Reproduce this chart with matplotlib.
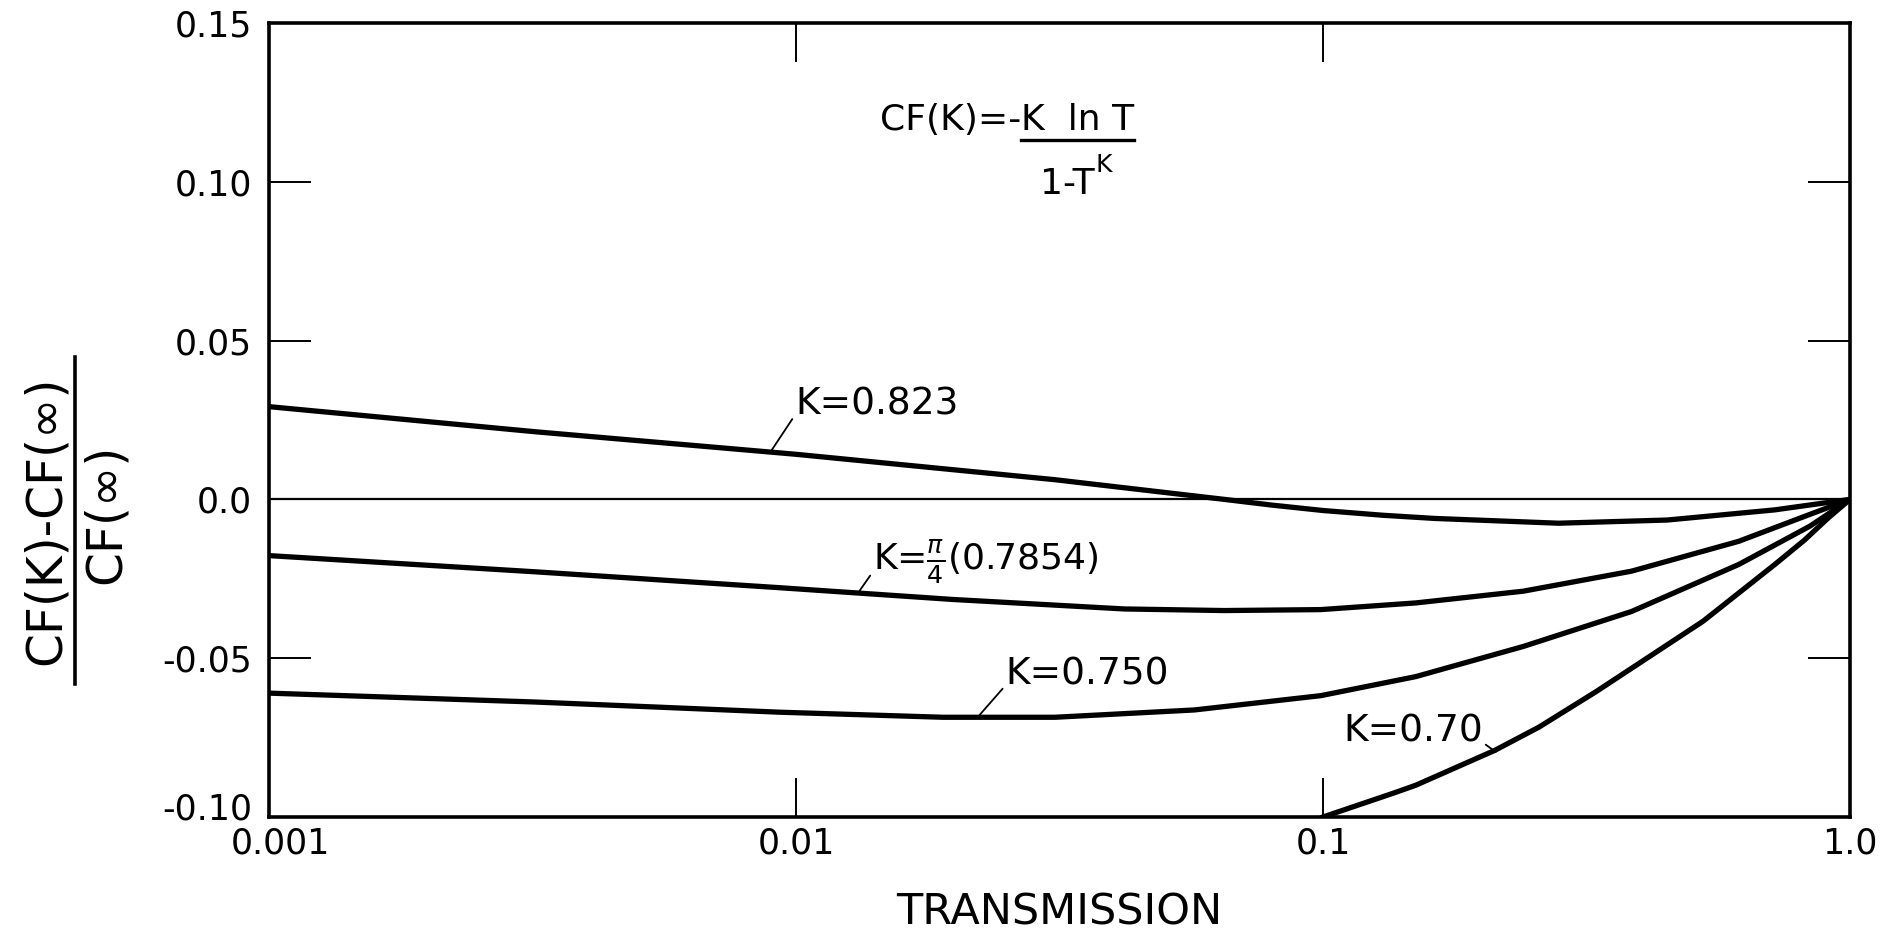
import matplotlib
matplotlib.use("Agg")
import matplotlib.pyplot as plt
from matplotlib.ticker import FixedLocator, NullLocator
from matplotlib.transforms import ScaledTranslation

# values (transmission T, relative deviation)
T_823 = [0.001, 0.0032, 0.01, 0.031, 0.05, 0.065, 0.08, 0.1, 0.13, 0.163, 0.28, 0.45, 0.72, 1.0]
V_823 = [0.0292, 0.0213, 0.0142, 0.0062, 0.0022, 0.0, -0.0018, -0.0035, -0.0050, -0.0060, -0.0075, -0.0065, -0.0033, 0.0]

T_785 = [0.001, 0.0032, 0.0093, 0.0198, 0.042, 0.065, 0.099, 0.15, 0.24, 0.385, 0.615, 0.84, 1.0]
V_785 = [-0.0177, -0.0228, -0.0278, -0.0315, -0.0345, -0.0350, -0.0347, -0.0326, -0.0289, -0.0226, -0.0132, -0.0047, 0.0]

T_750 = [0.001, 0.0032, 0.0093, 0.019, 0.031, 0.057, 0.099, 0.15, 0.24, 0.385, 0.615, 0.84, 1.0]
V_750 = [-0.0610, -0.0638, -0.0670, -0.0686, -0.0686, -0.0663, -0.0618, -0.0558, -0.0463, -0.0353, -0.0205, -0.0084, 0.0]

T_700 = [0.1, 0.136, 0.15, 0.212, 0.257, 0.33, 0.526, 0.72, 0.82, 0.91, 1.0]
V_700 = [-0.100, -0.0925, -0.090, -0.079, -0.0717, -0.0605, -0.0384, -0.0205, -0.0128, -0.0058, 0.0]

x_ticks = [0.001, 0.01, 0.1, 1.0]
x_labels = ["0.001", "0.01", "0.1", "1.0"]
y_ticks = [0.15, 0.10, 0.05, 0.0, -0.05, -0.10]
y_labels = ["0.15", "0.10", "0.05", "0.0", "-0.05", "-0.10"]

plt.rcParams["font.family"] = ["DejaVu Sans"]
plt.rcParams["mathtext.fontset"] = "dejavusans"

fig = plt.figure(figsize=(18.97, 9.42), dpi=100)
ax = fig.add_axes([0.1418, 0.1327, 0.8334, 0.8429])

lw = 3.8
for T, V in [(T_823, V_823), (T_785, V_785), (T_750, V_750), (T_700, V_700)]:
    ax.plot(T, V, color="black", lw=lw, solid_joinstyle="round")
ax.axhline(0.0, color="black", lw=1.6)

ax.set_xscale("log")
ax.set_xlim(0.001, 1.0)
ax.set_ylim(-0.10, 0.15)

ax.xaxis.set_major_locator(FixedLocator(x_ticks))
ax.xaxis.set_minor_locator(NullLocator())
ax.set_xticklabels(x_labels)
ax.set_yticks(y_ticks)
ax.set_yticklabels(y_labels)

ax.tick_params(axis="x", direction="in", length=28, width=1.4, top=True,
               labelsize=25, pad=7)
ax.tick_params(axis="y", direction="in", length=30, width=1.4, right=True,
               labelsize=25, pad=12)
for s in ax.spines.values():
    s.set_linewidth(2.6)

# corner labels nudged apart, as in the original
lab = ax.get_yticklabels()[-1]
lab.set_transform(lab.get_transform() + ScaledTranslation(0, 8 / 72, fig.dpi_scale_trans))
lab = ax.get_xticklabels()[0]
lab.set_transform(lab.get_transform() + ScaledTranslation(8 / 72, 0, fig.dpi_scale_trans))

ax.set_xlabel("TRANSMISSION", fontsize=31, labelpad=22)

# y label drawn as a fraction
fig.text(0.0239, 0.448, "CF(K)-CF(\u221e)", rotation=90, fontsize=35,
         ha="center", va="center")
fig.add_artist(plt.Line2D([0.0395, 0.0395], [0.274, 0.621], color="black", lw=2.6))
fig.text(0.056, 0.455, "CF(\u221e)", rotation=90, fontsize=35,
         ha="center", va="center")

# formula
fs = 26
t1 = ax.text(0.3862, 0.865, "CF(K)=-", transform=ax.transAxes, fontsize=fs,
             ha="left", va="baseline")
fig.canvas.draw()
inv = ax.transAxes.inverted()
x_num = inv.transform(t1.get_window_extent().get_points())[1][0]
t2 = ax.text(x_num, 0.865, "K  ln T", transform=ax.transAxes, fontsize=fs,
             ha="left", va="baseline")
fig.canvas.draw()
x_end = inv.transform(t2.get_window_extent().get_points())[1][0]
ax.plot([x_num, x_end], [0.853, 0.853], transform=ax.transAxes, color="black", lw=2.4)
t3 = ax.text(x_num + 0.012, 0.785, "1-T", transform=ax.transAxes, fontsize=fs,
             ha="left", va="baseline")
fig.canvas.draw()
x_den = inv.transform(t3.get_window_extent().get_points())[1][0]
ax.text(x_den + 0.001, 0.812, "K", transform=ax.transAxes, fontsize=18,
        ha="left", va="baseline")

# curve labels with leader lines
lead = dict(arrowstyle="-", lw=1.3, color="black", shrinkA=0, shrinkB=0)
ax.annotate("K=0.823", xy=(0.0090, 0.0156), xytext=(0.00996, 0.030),
            fontsize=27, ha="left", va="center",
            arrowprops=dict(lead, relpos=(0.0, 0.2)))
ax.annotate(r"K=$\frac{\pi}{4}$(0.7854)", xy=(0.0132, -0.0288), xytext=(0.0140, -0.0197),
            fontsize=26, ha="left", va="center",
            arrowprops=dict(lead, relpos=(0.0, 0.3)))
ax.annotate("K=0.750", xy=(0.0223, -0.0679), xytext=(0.02497, -0.0552),
            fontsize=27, ha="left", va="center",
            arrowprops=dict(lead, relpos=(0.0, 0.2)))
ax.annotate("K=0.70", xy=(0.2127, -0.0795), xytext=(0.2012, -0.0732),
            fontsize=27, ha="right", va="center",
            arrowprops=dict(lead, relpos=(1.0, 0.2)))

fig.savefig("out.png", dpi=100)
